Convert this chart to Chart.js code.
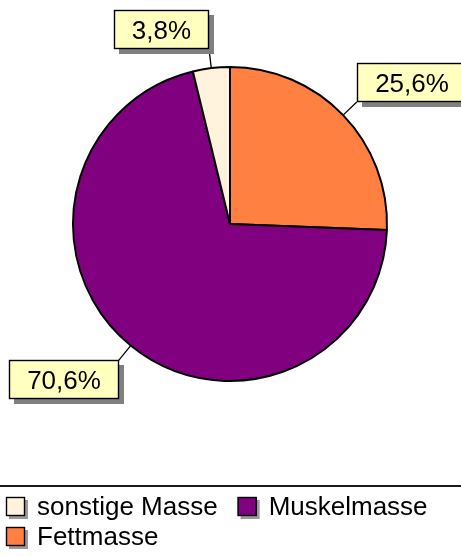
<!DOCTYPE html>
<html><head><meta charset="utf-8">
<script src="https://cdn.jsdelivr.net/npm/chart.js@4.4.1/dist/chart.umd.min.js"></script>
<style>html,body{margin:0;padding:0;background:#fff}#wrap{width:461px;height:556px;position:relative}canvas{display:block}</style>
</head><body><div id="wrap"><canvas id="c" width="461" height="556"></canvas></div>
<script>
// Data (drawing order clockwise from 12 o'clock)
const categories = ['Fettmasse', 'Muskelmasse', 'sonstige Masse'];
const values = [25.6, 70.6, 3.8];
// Legend order as shown in the reference
const legendOrder = [2, 1, 0];

const FONT = '"Liberation Sans", Arial, sans-serif';

const labelPlugin = {
  id: 'boxLabels',
  afterDatasetsDraw(chart) {
    const ctx = chart.ctx;
    const meta = chart.getDatasetMeta(0);
    ctx.save();
    ctx.font = '26px ' + FONT;
    meta.data.forEach((arc, i) => {
      const p = arc.getProps(['x', 'y', 'startAngle', 'endAngle', 'outerRadius'], true);
      const mid = (p.startAngle + p.endAngle) / 2;
      const dx = Math.cos(mid), dy = Math.sin(mid);
      const ax = p.x + dx * p.outerRadius, ay = p.y + dy * p.outerRadius;
      const ex = p.x + dx * (p.outerRadius + 19), ey = p.y + dy * (p.outerRadius + 19);
      const text = values[i].toFixed(1).replace('.', ',') + '%';
      const tw = ctx.measureText(text).width;
      const bw = Math.round(tw + 36), bh = 39;
      const bx = Math.round(dx > 0 ? ex : ex - bw);
      const by = Math.round(dy < 0 ? ey - bh : ey);
      // leader line
      ctx.strokeStyle = '#000';
      ctx.lineWidth = 1.3;
      ctx.beginPath();
      ctx.moveTo(ax, ay);
      ctx.lineTo(ex, ey);
      ctx.stroke();
      // shadow
      ctx.fillStyle = '#808080';
      ctx.fillRect(bx + 5, by + 5, bw, bh);
      // box
      ctx.fillStyle = '#FFFFC0';
      ctx.fillRect(bx, by, bw, bh);
      ctx.lineWidth = 1.4;
      ctx.strokeRect(bx + 0.5, by + 0.5, bw - 1, bh - 1);
      // text
      ctx.fillStyle = '#000';
      ctx.textAlign = 'center';
      ctx.textBaseline = 'alphabetic';
      ctx.fillText(text, bx + bw / 2, by + 29);
    });
    ctx.restore();
  }
};

const legendPlugin = {
  id: 'customLegend',
  afterDraw(chart) {
    const ctx = chart.ctx;
    const bg = chart.data.datasets[0].backgroundColor;
    ctx.save();
    // separator line
    ctx.strokeStyle = '#1a1a1a';
    ctx.lineWidth = 2;
    ctx.beginPath();
    ctx.moveTo(0, 486);
    ctx.lineTo(461, 486);
    ctx.stroke();
    ctx.font = '26px ' + FONT;
    ctx.textBaseline = 'alphabetic';
    ctx.textAlign = 'left';
    let x = 6, row = 0;
    const rowTop = [497, 527];
    legendOrder.forEach(i => {
      const tw = ctx.measureText(categories[i]).width;
      const w = 19 + 12 + tw;
      if (x + w > 455 && x > 6) { x = 6; row++; }
      const y = rowTop[row];
      ctx.fillStyle = '#9a9a9a';
      ctx.fillRect(x + 3, y + 3, 19, 19);
      ctx.fillStyle = bg[i];
      ctx.fillRect(x, y, 19, 19);
      ctx.strokeStyle = '#000';
      ctx.lineWidth = 1.4;
      ctx.strokeRect(x + 0.5, y + 0.5, 18, 18);
      ctx.fillStyle = '#000';
      ctx.fillText(categories[i], x + 31, y + 18);
      x += w + 20;
    });
    ctx.restore();
  }
};

new Chart(document.getElementById('c'), {
  type: 'pie',
  data: {
    labels: categories,
    datasets: [{
      data: values,
      backgroundColor: ['#FF8040', '#800080', '#FFF3DE'],
      borderColor: '#000',
      borderWidth: 2,
      radius: 157
    }]
  },
  options: {
    responsive: false,
    devicePixelRatio: 1,
    animation: false,
    events: [],
    layout: { padding: { left: 73, top: 67, right: 74, bottom: 175 } },
    plugins: { legend: { display: false }, tooltip: { enabled: false } }
  },
  plugins: [labelPlugin, legendPlugin]
});
</script>
</body></html>
